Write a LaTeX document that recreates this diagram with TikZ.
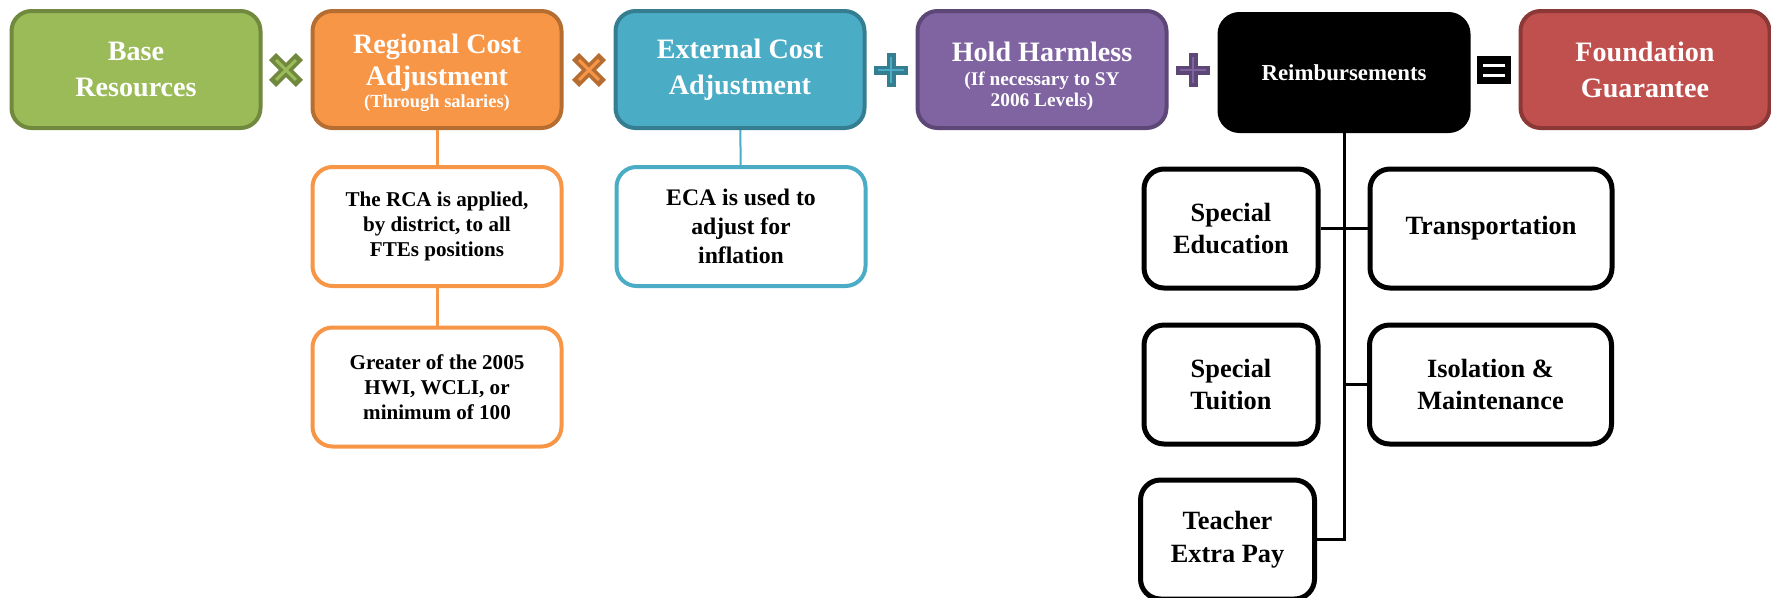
\documentclass[tikz,border=0pt]{standalone}
\usepackage{fontspec}
\setmainfont{Liberation Serif}
\usepackage{tikz}
\usetikzlibrary{calc, shapes, arrows}

\definecolor{grn}{HTML}{9BBB59}
\definecolor{grnd}{HTML}{71893F}
\definecolor{org}{HTML}{F79646}
\definecolor{orgd}{HTML}{B66D31}
\definecolor{blu}{HTML}{4BACC6}
\definecolor{blud}{HTML}{357D91}
\definecolor{pur}{HTML}{8064A2}
\definecolor{purd}{HTML}{5C4776}
\definecolor{rd}{HTML}{C0504D}
\definecolor{rdd}{HTML}{8C3836}

% operator signs between the top boxes
\newcommand{\timesop}[3]{%
\begin{scope}[shift={#1},rotate=45]
\draw[#2, line width=2mm] (-0.38,0) -- (0.38,0) (0,-0.38) -- (0,0.38);
\draw[#3, line width=0.6mm] (-0.28,0) -- (0.28,0) (0,-0.28) -- (0,0.28);
\end{scope}}
\newcommand{\plusop}[3]{%
\begin{scope}[shift={#1}]
\draw[#2, line width=1.8mm] (-0.34,0) -- (0.34,0) (0,-0.34) -- (0,0.34);
\draw[#3, line width=0.5mm] (-0.26,0) -- (0.26,0) (0,-0.26) -- (0,0.26);
\end{scope}}

\begin{document}
\begin{tikzpicture}
\tikzstyle{topbox}=[rectangle,rounded corners=0.4cm,line width=0.8mm,minimum width=4.98cm,minimum height=2.34cm,align=center,text=white,font=\bfseries\fontsize{16}{20.5}\selectfont]
\tikzstyle{subbox}=[rectangle,rounded corners=0.4cm,line width=0.8mm,fill=white,minimum width=4.98cm,minimum height=2.38cm,align=center,font=\bfseries\fontsize{12}{14.4}\selectfont]
\tikzstyle{blkbox}=[subbox,line width=1mm,draw=black,minimum width=3.48cm,font=\bfseries\fontsize{15}{18.5}\selectfont]
\useasboundingbox (0,0) rectangle (35.42,-11.94);
\node[topbox,fill=grn,draw=grnd] (T_1) at (2.72,-1.39) {Base\\Resources};
\node[topbox,fill=org,draw=orgd] (T_2) at (8.74,-1.39) {\rule{0pt}{15pt}Regional Cost\\[-2pt]Adjustment\\[-8pt]{\fontsize{10.5}{12}\selectfont (Through salaries)}};
\node[topbox,fill=blu,draw=blud] (T_3) at (14.8,-1.39) {External Cost\\Adjustment};
\node[topbox,fill=pur,draw=purd,font=\bfseries\fontsize{11}{12.5}\selectfont] (T_4) at (20.84,-1.39) {\rule{0pt}{19pt}{\fontsize{16}{19}\selectfont Hold Harmless}\\[1pt](If necessary to SY\\2006 Levels)};
\node[topbox,fill=black,draw=black,font=\bfseries\fontsize{13}{16}\selectfont] (T_5) at (26.88,-1.45) {Reimbursements};
\node[topbox,fill=rd,draw=rdd] (T_6) at (32.9,-1.39) {Foundation\\Guarantee};
\timesop{(5.72,-1.4)}{grnd}{grn}
\timesop{(11.78,-1.4)}{orgd}{org}
\plusop{(17.82,-1.4)}{blud}{blu}
\plusop{(23.86,-1.4)}{purd}{pur}
\fill[black] (29.54,-1.68) rectangle (30.22,-1.12);
\draw[white, line width=0.6mm] (29.66,-1.3) -- (30.1,-1.3) (29.66,-1.5) -- (30.1,-1.5);
% details
\node[subbox,draw=org] (R_1) at (8.74,-4.53) {The RCA is applied,\\by district, to all\\FTEs positions};
\node[subbox,draw=org] (R_2) at (8.74,-7.74) {Greater of the 2005\\HWI, WCLI, or\\minimum of 100};
\node[subbox,draw=blu,font=\bfseries\fontsize{13.5}{16.5}\selectfont] (E_1) at (14.82,-4.53) {ECA is used to\\adjust for\\inflation};
\node[blkbox] (S_1) at (24.62,-4.57) {Special\\Education};
\node[blkbox,minimum width=4.84cm] (S_2) at (29.82,-4.57) {Transportation};
\node[blkbox] (S_3) at (24.62,-7.69) {Special\\Tuition};
\node[blkbox,minimum width=4.84cm] (S_4) at (29.81,-7.69) {Isolation \&\\Maintenance};
\node[blkbox] (S_5) at (24.55,-10.79) {Teacher\\Extra Pay};
\draw[org, line width=0.6mm] (T_2) -- (R_1) -- (R_2);
\draw[blu, line width=0.4mm] (T_3) -- (E_1);
\draw[line width=0.6mm] (T_5.south) |- (S_5.east);
\draw[line width=0.6mm] (S_1) -- (S_2);
\draw[line width=0.6mm] (T_5.south |- S_4.west) -- (S_4);
\end{tikzpicture}
\end{document}
